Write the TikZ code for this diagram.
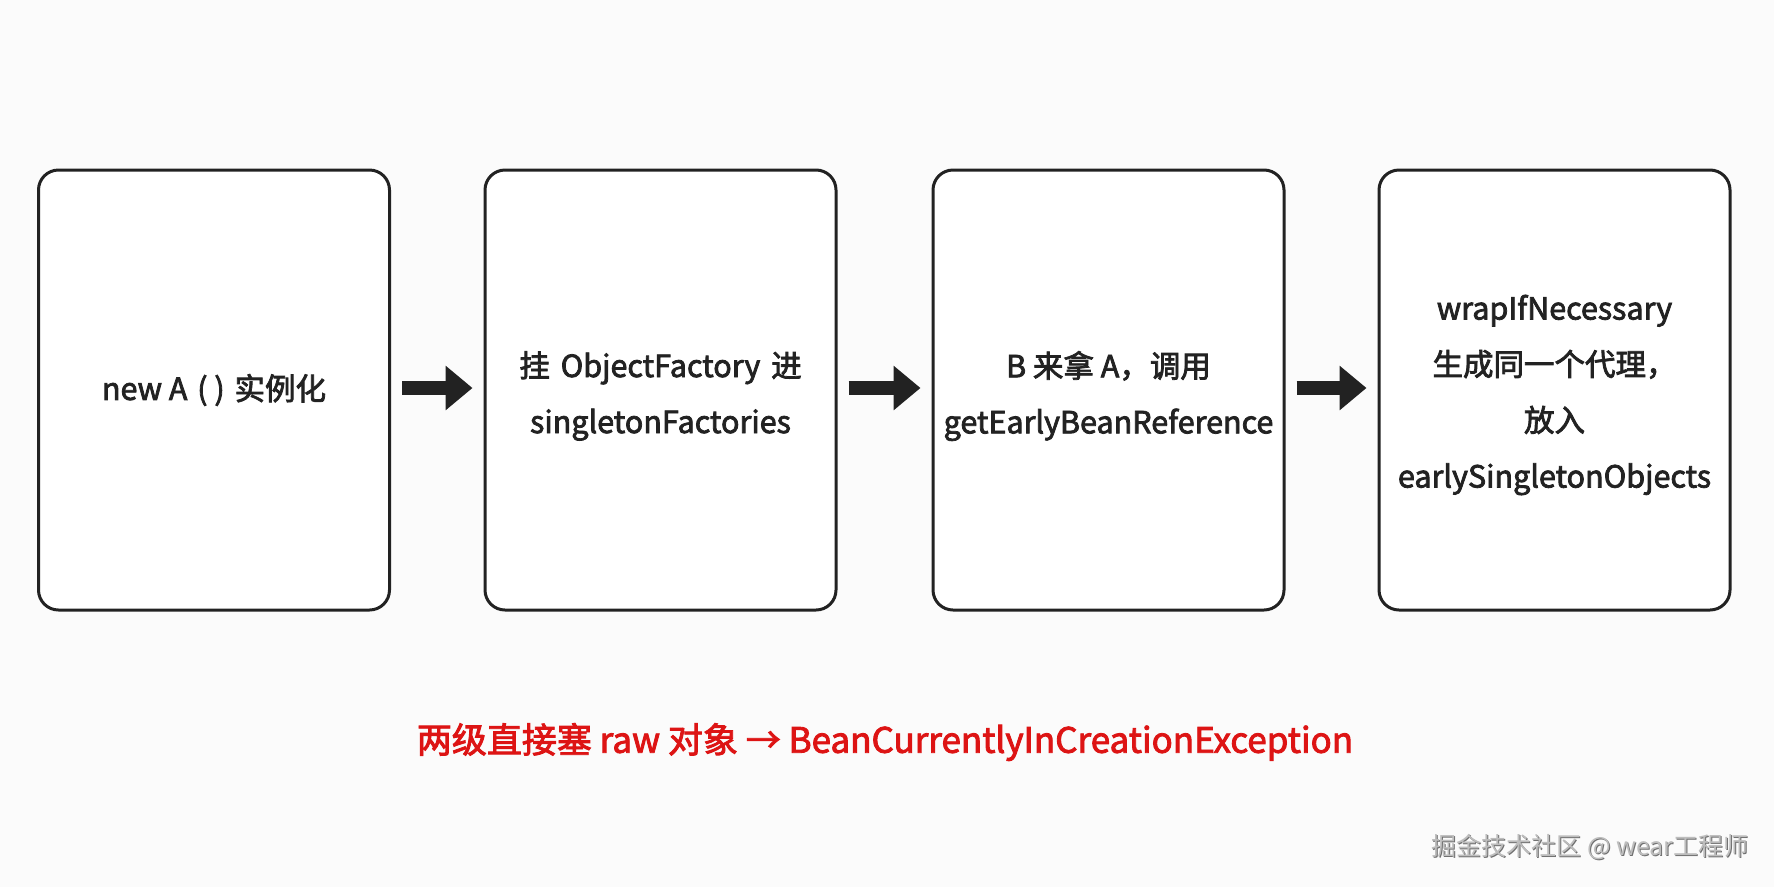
\documentclass[tikz,border=0pt]{standalone}
\usepackage{fontspec}
\setmainfont{Noto Sans CJK SC}
\newfontfamily\boxfont{Noto Sans CJK SC}[FakeBold=2.5]
\newfontfamily\wmfont{Noto Sans CJK SC}
\usetikzlibrary{arrows.meta,calc}
\definecolor{bg}{HTML}{FBFBFB}
\definecolor{ink}{HTML}{222222}
\definecolor{alert}{HTML}{DD1414}
\definecolor{wm}{HTML}{BDBDBD}
\definecolor{wmshadow}{HTML}{707070}
\tikzset{
  stepbox/.style={draw=ink, line width=3pt, rounded corners=20pt, fill=white,
    minimum width=351pt, minimum height=440pt},
  boxtext/.style={text=ink, align=center, font=\boxfont\fontsize{30.5}{56}\selectfont},
  flowarrow/.style={draw=ink, line width=14pt, -{Triangle[length=27pt,width=43pt]}},
}
\begin{document}
\begin{tikzpicture}[x=1pt,y=-1pt]
\fill[bg] (0,0) rectangle (1774,887);
\useasboundingbox (0,0) rectangle (1774,887);

\node[stepbox] (b1) at (214,390) {};
\node[stepbox] (b2) at (660.5,390) {};
\node[stepbox] (b3) at (1108.5,390) {};
\node[stepbox] (b4) at (1554.5,390) {};

\node[boxtext] (t1) at (214,390) {new A\hspace{3pt} ( )\hspace{3pt} 实例化};
\node[boxtext] (t2) at (660.5,396) {挂\hspace{4pt} ObjectFactory\hspace{4pt} 进\\singletonFactories};
\node[boxtext] (t3) at (1108.5,396) {B 来拿 A，调用\\getEarlyBeanReference};
\node[boxtext] (t4) at (1554.5,395) {wrapIfNecessary\\生成同一个代理，\\放入\\earlySingletonObjects};

\draw[flowarrow] ($(b1.east)+(11,-2)$) -- ($(b2.west)+(-11,-2)$);
\draw[flowarrow] ($(b2.east)+(11,-2)$) -- ($(b3.west)+(-11,-2)$);
\draw[flowarrow] ($(b3.east)+(11,-2)$) -- ($(b4.west)+(-11,-2)$);

\node[text=alert, font=\boxfont\fontsize{35}{40}\selectfont] (note) at (885,742)
  {两级直接塞 raw 对象 → BeanCurrentlyInCreationException};

\node[text=wmshadow, font=\wmfont\fontsize{25}{28}\selectfont] (wmb) at (1591,848)
  {掘金技术社区 @ wear工程师};
\node[text=wm, font=\wmfont\fontsize{25}{28}\selectfont] (wmt) at (1590,847)
  {掘金技术社区 @ wear工程师};
\end{tikzpicture}
\end{document}
